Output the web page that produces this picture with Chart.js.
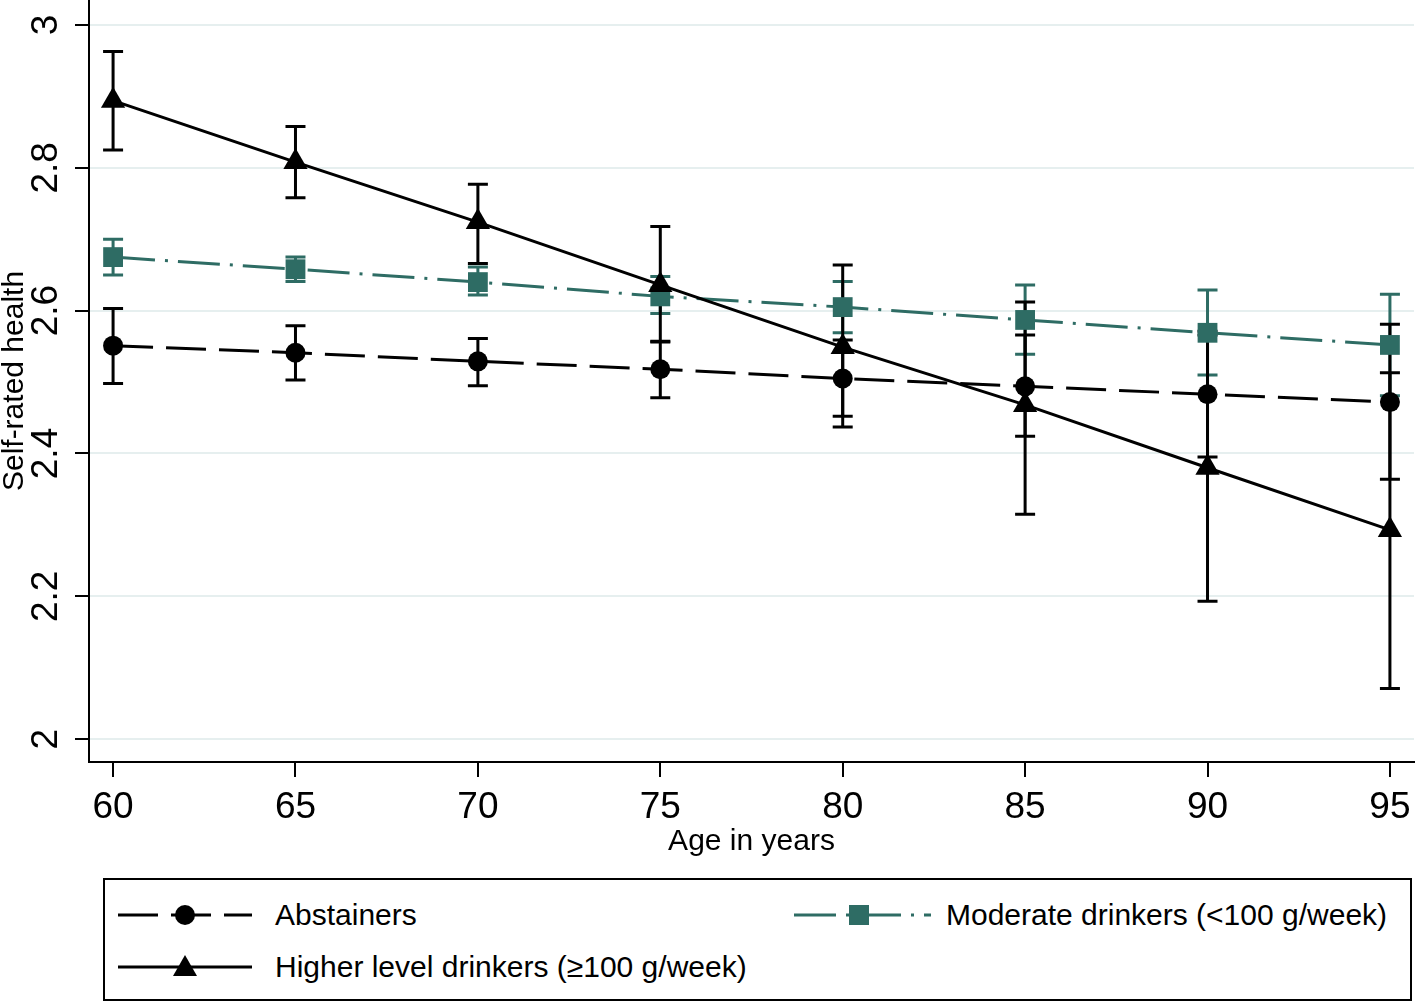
<!DOCTYPE html>
<html>
<head>
<meta charset="utf-8">
<title>Self-rated health by age</title>
<script src="https://cdn.jsdelivr.net/npm/chart.js@4.4.1/dist/chart.umd.min.js"></script>
<style>
  html, body { margin: 0; padding: 0; background: #fff; }
  body { width: 1416px; height: 1004px; position: relative; overflow: hidden;
         font-family: "Liberation Sans", Arial, sans-serif; }
  #wrap { position: absolute; left: 0; top: 0; width: 1416px; height: 870px; }
  .legend { position: absolute; left: 103px; top: 878px; width: 1309px; height: 123px;
            border: 2px solid #000; box-sizing: border-box; }
  .item { position: absolute; height: 30px; display: flex; align-items: center;
          font-size: 30px; color: #000; white-space: nowrap; }
  .item svg { display: block; }
</style>
</head>
<body>
<div id="wrap"><canvas id="chart" width="1416" height="870"></canvas></div>
<div class="legend">
  <div class="item" style="left:13px; top:20px;">
    <svg width="134" height="30"><line x1="0" y1="15" x2="134" y2="15" stroke="#000" stroke-width="3" stroke-dasharray="40 13"/><circle cx="67" cy="15" r="10" fill="#000"/></svg>
    <span style="margin-left:23px;">Abstainers</span>
  </div>
  <div class="item" style="left:689px; top:20px;">
    <svg width="137" height="30"><line x1="0" y1="15" x2="137" y2="15" stroke="#2e6c64" stroke-width="3" stroke-dasharray="42 10 3 10"/><rect x="55" y="5" width="20" height="20" fill="#2e6c64"/></svg>
    <span style="margin-left:15px;">Moderate drinkers (&lt;100 g/week)</span>
  </div>
  <div class="item" style="left:13px; top:72px;">
    <svg width="134" height="30"><line x1="0" y1="15" x2="134" y2="15" stroke="#000" stroke-width="3"/><polygon points="67,3 79,24 55,24" fill="#000"/></svg>
    <span style="margin-left:23px;">Higher level drinkers (≥100 g/week)</span>
  </div>
</div>
<script>
  const ages = [60, 65, 70, 75, 80, 85, 90, 95];

  const abstainers = [2.551, 2.541, 2.529, 2.518, 2.505, 2.494, 2.483, 2.472];
  const abstainersLow = [2.498, 2.503, 2.495, 2.478, 2.452, 2.424, 2.395, 2.364];
  const abstainersHigh = [2.603, 2.579, 2.561, 2.557, 2.559, 2.566, 2.571, 2.581];

  const moderate = [2.675, 2.658, 2.640, 2.620, 2.605, 2.587, 2.569, 2.552];
  const moderateLow = [2.650, 2.641, 2.622, 2.596, 2.569, 2.539, 2.510, 2.481];
  const moderateHigh = [2.700, 2.675, 2.661, 2.648, 2.641, 2.636, 2.629, 2.623];

  const higher = [2.894, 2.808, 2.724, 2.636, 2.549, 2.468, 2.380, 2.293];
  const higherLow = [2.825, 2.758, 2.666, 2.556, 2.437, 2.315, 2.193, 2.071];
  const higherHigh = [2.963, 2.858, 2.777, 2.718, 2.664, 2.612, 2.566, 2.513];

  const xTicks = [60, 65, 70, 75, 80, 85, 90, 95];
  const yTicks = [2, 2.2, 2.4, 2.6, 2.8, 3];
  const yTickLabels = ["2", "2.2", "2.4", "2.6", "2.8", "3"];

  const FONT = '"Liberation Sans", Arial, sans-serif';
  const TEAL = "#2e6c64";

  function points(values) {
    return ages.map(function (age, i) { return { x: age, y: values[i] }; });
  }

  // drawn under the lines: teal bars first, then the black ones
  const errorSeries = [
    { low: moderateLow, high: moderateHigh, color: TEAL, width: 3 },
    { low: abstainersLow, high: abstainersHigh, color: "#000", width: 3 },
    { low: higherLow, high: higherHigh, color: "#000", width: 3 }
  ];

  const errorBars = {
    id: "errorBars",
    beforeDatasetsDraw: function (chart) {
      const ctx = chart.ctx, xs = chart.scales.x, ys = chart.scales.y;
      const cap = 10;
      ctx.save();
      errorSeries.forEach(function (s) {
        ctx.strokeStyle = s.color;
        ctx.lineWidth = s.width;
        ctx.setLineDash([]);
        ages.forEach(function (age, i) {
          const x = xs.getPixelForValue(age);
          const y1 = ys.getPixelForValue(s.low[i]);
          const y2 = ys.getPixelForValue(s.high[i]);
          ctx.beginPath();
          ctx.moveTo(x, y1); ctx.lineTo(x, y2);
          ctx.moveTo(x - cap, y1); ctx.lineTo(x + cap, y1);
          ctx.moveTo(x - cap, y2); ctx.lineTo(x + cap, y2);
          ctx.stroke();
        });
      });
      ctx.restore();
    },
    afterDraw: function (chart) {
      // rotated y tick labels, as Stata draws them
      const ctx = chart.ctx, ys = chart.scales.y;
      ctx.save();
      ctx.fillStyle = "#000";
      ctx.font = "37px " + FONT;
      ctx.textAlign = "center";
      ctx.textBaseline = "middle";
      yTicks.forEach(function (v, i) {
        ctx.save();
        ctx.translate(47, ys.getPixelForValue(v));
        ctx.rotate(-Math.PI / 2);
        ctx.fillText(yTickLabels[i], 0, 0);
        ctx.restore();
      });
      ctx.restore();
    }
  };

  function noPadding(scale) {
    scale.paddingLeft = 0;
    scale.paddingRight = 0;
    scale.paddingTop = 0;
    scale.paddingBottom = 0;
  }

  new Chart(document.getElementById("chart").getContext("2d"), {
    type: "line",
    data: {
      datasets: [
        {
          label: "Abstainers",
          data: points(abstainers),
          borderColor: "#000",
          backgroundColor: "#000",
          borderWidth: 3,
          borderDash: [40, 13],
          pointStyle: "circle",
          pointRadius: 10,
          pointBorderWidth: 0,
          clip: false,
          order: 2
        },
        {
          label: "Moderate drinkers (<100 g/week)",
          data: points(moderate),
          borderColor: TEAL,
          backgroundColor: TEAL,
          borderWidth: 3,
          borderDash: [42, 10, 3, 10],
          pointStyle: "rect",
          pointRadius: 14,
          pointBorderWidth: 0,
          clip: false,
          order: 1
        },
        {
          label: "Higher level drinkers (≥100 g/week)",
          data: points(higher),
          borderColor: "#000",
          backgroundColor: "#000",
          borderWidth: 3,
          pointStyle: "triangle",
          pointRadius: 14,
          pointBorderWidth: 0,
          clip: false,
          order: 0
        }
      ]
    },
    options: {
      responsive: false,
      animation: false,
      devicePixelRatio: 1,
      layout: { autoPadding: false, padding: { left: 0, top: 0, right: 2, bottom: 13 } },
      plugins: {
        legend: { display: false },
        tooltip: { enabled: false }
      },
      scales: {
        x: {
          type: "linear",
          min: 59.34,
          max: 95.66,
          afterBuildTicks: function (scale) {
            scale.ticks = xTicks.map(function (v) { return { value: v }; });
          },
          afterFit: function (scale) { scale.height = 95; noPadding(scale); },
          border: { display: true, color: "#000", width: 2 },
          grid: { drawOnChartArea: false, drawTicks: true, tickLength: 15, tickColor: "#000", lineWidth: 2 },
          ticks: { color: "#000", padding: 9, maxRotation: 0, font: { family: FONT, size: 37 } },
          title: {
            display: true,
            text: "Age in years",
            color: "#000",
            padding: 0,
            font: { family: FONT, size: 30, lineHeight: 1 }
          }
        },
        y: {
          type: "linear",
          min: 1.968,
          max: 3.035,
          afterBuildTicks: function (scale) {
            scale.ticks = yTicks.map(function (v) { return { value: v }; });
          },
          afterFit: function (scale) { scale.width = 89; noPadding(scale); },
          border: { display: true, color: "#000", width: 2 },
          grid: { color: "#e6efef", lineWidth: 2, drawTicks: true, tickLength: 14, tickColor: "#000" },
          ticks: { display: false },
          title: {
            display: true,
            text: "Self-rated health",
            color: "#000",
            padding: 0,
            font: { family: FONT, size: 30, lineHeight: 1 }
          }
        }
      }
    },
    plugins: [errorBars]
  });
</script>
</body>
</html>
